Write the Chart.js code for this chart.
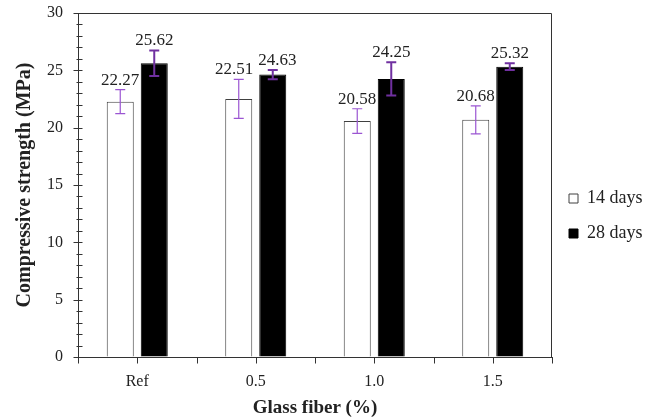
<!DOCTYPE html>
<html>
<head>
<meta charset="utf-8">
<script src="https://cdn.jsdelivr.net/npm/chart.js@4/dist/chart.umd.min.js"></script>
<style>
  html, body { margin: 0; padding: 0; background: #fff; }
  #wrap { width: 646px; height: 419px; }
</style>
</head>
<body>
<div id="wrap"><canvas id="c" width="646" height="419"></canvas></div>
<script>
const categories = ['Ref', '0.5', '1.0', '1.5'];
const seriesNames = ['14 days', '28 days'];
const days14 = [22.27, 22.51, 20.58, 20.68];
const days28 = [25.62, 24.63, 24.25, 25.32];
const err14 = [1.05, 1.70, 1.07, 1.22];
const err28 = [1.12, 0.40, 1.45, 0.30];
const yMin = 0, yMax = 30, yStep = 5, yMinorStep = 1;
const xTitle = 'Glass fiber (%)';
const yTitle = 'Compressive strength (MPa)';

const FONT = "'Liberation Serif', 'Times New Roman', serif";
Chart.defaults.font.family = FONT;
Chart.defaults.color = '#222';

const errors = [err14, err28];
const errColors = ['#9B55D2', '#7030A0'];
const errWidths = [1.2, 2];

const decorPlugin = {
  id: 'decor',
  afterDatasetsDraw(chart) {
    const ctx = chart.ctx;
    const xs = chart.scales.x, ys = chart.scales.y;
    const ca = chart.chartArea;
    ctx.save();
    ctx.strokeStyle = '#333';
    ctx.lineWidth = 1;
    ctx.beginPath();
    ctx.moveTo(Math.round(ca.left) + 0.5, Math.round(ca.top) + 0.5);
    ctx.lineTo(Math.round(ca.right) - 0.5, Math.round(ca.top) + 0.5);
    ctx.lineTo(Math.round(ca.right) - 0.5, Math.round(ca.bottom) + 0.5);
    ctx.stroke();
    const ax = Math.round(ca.left) + 0.5;
    for (let v = yMin; v <= yMax; v += yMinorStep) {
      const y = Math.round(ys.getPixelForValue(v)) + 0.5;
      const major = v % yStep === 0;
      ctx.beginPath();
      ctx.moveTo(ax - (major ? 5 : 2), y);
      ctx.lineTo(ax + 4, y);
      ctx.stroke();
    }
    const by = Math.round(ca.bottom) + 0.5;
    for (let i = -0.5; i <= categories.length - 0.5; i += 0.5) {
      const x = Math.round(xs.getPixelForValue(i)) + 0.5;
      ctx.beginPath();
      ctx.moveTo(x, by);
      ctx.lineTo(x, by + 6);
      ctx.stroke();
    }
    // error bars
    const labels = [];
    chart.data.datasets.forEach((ds, di) => {
      const meta = chart.getDatasetMeta(di);
      meta.data.forEach((bar, j) => {
        const v = ds.data[j];
        const e = errors[di][j];
        const x = bar.x;
        const yt = ys.getPixelForValue(v + e);
        const yb = ys.getPixelForValue(v - e);
        ctx.strokeStyle = errColors[di];
        ctx.lineWidth = errWidths[di];
        ctx.beginPath();
        ctx.moveTo(x, yt); ctx.lineTo(x, yb);
        ctx.moveTo(x - 5, yt); ctx.lineTo(x + 5, yt);
        ctx.moveTo(x - 5, yb); ctx.lineTo(x + 5, yb);
        ctx.stroke();
        (labels[j] = labels[j] || [])[di] = { text: v.toFixed(2), x: x, y: yt - 5 };
      });
    });
    // value labels, nudged apart if neighbours would touch
    ctx.fillStyle = '#222';
    ctx.font = '17px ' + FONT;
    ctx.textAlign = 'center';
    ctx.textBaseline = 'alphabetic';
    labels.forEach(pair => {
      const a = pair[0], b = pair[1];
      const wa = ctx.measureText(a.text).width, wb = ctx.measureText(b.text).width;
      const overlapY = Math.abs(a.y - b.y) < 17;
      const gap = (b.x - wb / 2) - (a.x + wa / 2);
      if (overlapY && gap < 5) {
        const shift = (5 - gap) / 2;
        a.x -= shift; b.x += shift;
      }
      ctx.fillText(a.text, a.x, a.y);
      ctx.fillText(b.text, b.x, b.y);
    });
    ctx.restore();
  }
};

new Chart(document.getElementById('c'), {
  type: 'bar',
  data: {
    labels: categories,
    datasets: [
      { label: seriesNames[0], data: days14, backgroundColor: '#ffffff', borderColor: '#404040', borderWidth: 1,
        categoryPercentage: 0.574, barPercentage: 0.794 },
      { label: seriesNames[1], data: days28, backgroundColor: '#000000', borderColor: '#000000', borderWidth: 1,
        categoryPercentage: 0.574, barPercentage: 0.794 }
    ]
  },
  options: {
    responsive: false,
    animation: false,
    layout: { padding: { left: 6, top: 13, right: 0, bottom: 0 } },
    plugins: {
      tooltip: { enabled: false },
      legend: {
        position: 'right',
        align: 'center',
        maxWidth: 94,
        labels: {
          boxWidth: 9, boxHeight: 9, padding: 17,
          color: '#222',
          font: { size: 18, family: FONT }
        }
      }
    },
    scales: {
      x: {
        offset: true,
        grid: { display: true, drawOnChartArea: false, drawTicks: true, tickLength: 6, tickColor: 'rgba(0,0,0,0)' },
        border: { display: true, color: '#333', width: 1 },
        ticks: { color: '#222', font: { size: 16 }, padding: 9, autoSkip: false, maxRotation: 0 },
        title: { display: true, text: xTitle, color: '#222', font: { size: 19, weight: 'bold' }, padding: { top: -4, bottom: 0 } }
      },
      y: {
        min: yMin, max: yMax,
        grid: { display: true, drawOnChartArea: false, drawTicks: true, tickLength: 12, tickColor: 'rgba(0,0,0,0)' },
        border: { display: true, color: '#333', width: 1 },
        ticks: { stepSize: yStep, color: '#222', font: { size: 16 }, padding: 3 },
        title: { display: true, text: yTitle, color: '#222', font: { size: 20, weight: 'bold' }, padding: { top: 7, bottom: 7 } }
      }
    }
  },
  plugins: [decorPlugin]
});
</script>
</body>
</html>
